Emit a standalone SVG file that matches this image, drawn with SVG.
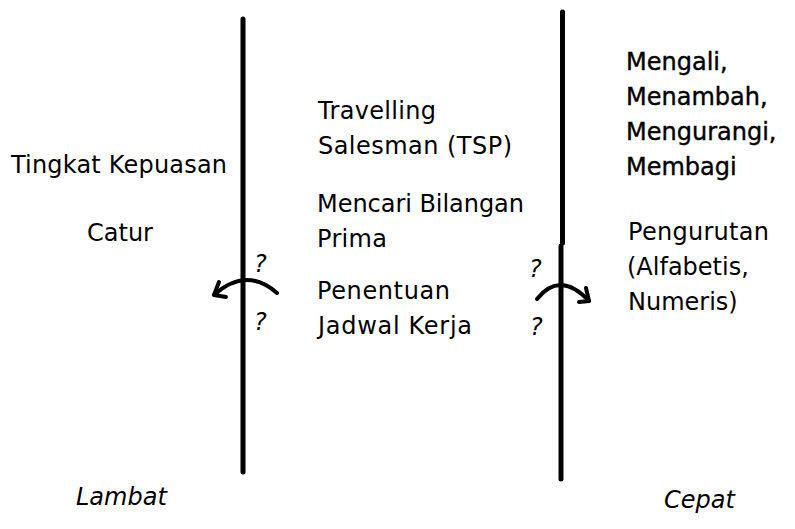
<svg xmlns="http://www.w3.org/2000/svg" width="795" height="529" viewBox="0 0 795 529">
<style>
.t{font-family:"DejaVu Sans","Liberation Sans",sans-serif;font-size:24px;fill:#000}
.b{stroke:#000;stroke-width:0.4}
.i{font-style:italic}
.q{font-family:"DejaVu Sans","Liberation Sans",sans-serif;font-size:24px;font-style:italic;fill:#000}
.ln{stroke:#000;stroke-width:5;stroke-linecap:round;fill:none}
.ar{stroke:#000;stroke-width:4;stroke-linecap:round;stroke-linejoin:round;fill:none}
</style>
<rect width="795" height="529" fill="#fff"/>
<g id="dividers">
<line class="ln" x1="243" y1="19" x2="243" y2="472"/>
<line class="ln" x1="562.5" y1="12" x2="562.5" y2="243"/>
<line class="ln" x1="561" y1="246" x2="561" y2="479"/>
</g>
<g id="connectors">
<path class="ar" d="M277,293 Q246,266 214,295"/>
<path class="ar" d="M219,282 L214,295 L226,297"/>
<path class="ar" d="M537,299 Q560,270 589,301"/>
<path class="ar" d="M586,288 L589,301 L579,302"/>
</g>
<g id="question-marks">
<text class="q" x="254" y="272">?</text>
<text class="q" x="254" y="330">?</text>
<text class="q" x="529" y="277">?</text>
<text class="q" x="530" y="335">?</text>
</g>
<g id="node-tingkat"><text class="t" x="11" y="173" textLength="216" lengthAdjust="spacing">Tingkat Kepuasan</text></g>
<g id="node-catur"><text class="t" x="87" y="241">Catur</text></g>
<g id="node-tsp"><text class="t" x="318" y="119" textLength="118" lengthAdjust="spacing">Travelling</text><text class="t" x="318" y="154" textLength="194" lengthAdjust="spacing">Salesman (TSP)</text></g>
<g id="node-prima"><text class="t" x="317" y="212" textLength="207" lengthAdjust="spacing">Mencari Bilangan</text><text class="t" x="317" y="247" textLength="70" lengthAdjust="spacing">Prima</text></g>
<g id="node-jadwal"><text class="t" x="317" y="299" textLength="133" lengthAdjust="spacing">Penentuan</text><text class="t" x="318" y="334" textLength="154" lengthAdjust="spacing">Jadwal Kerja</text></g>
<g id="node-aritmetika"><text class="t b" x="626" y="70">Mengali,</text><text class="t b" x="626" y="105">Menambah,</text><text class="t b" x="626" y="140">Mengurangi,</text><text class="t b" x="626" y="175">Membagi</text></g>
<g id="node-pengurutan"><text class="t" x="628" y="240" textLength="141" lengthAdjust="spacing">Pengurutan</text><text class="t" x="627" y="275">(Alfabetis,</text><text class="t" x="628" y="310">Numeris)</text></g>
<g id="label-lambat"><text class="t i" x="76" y="505">Lambat</text></g>
<g id="label-cepat"><text class="t i" x="664" y="508">Cepat</text></g>
</svg>
